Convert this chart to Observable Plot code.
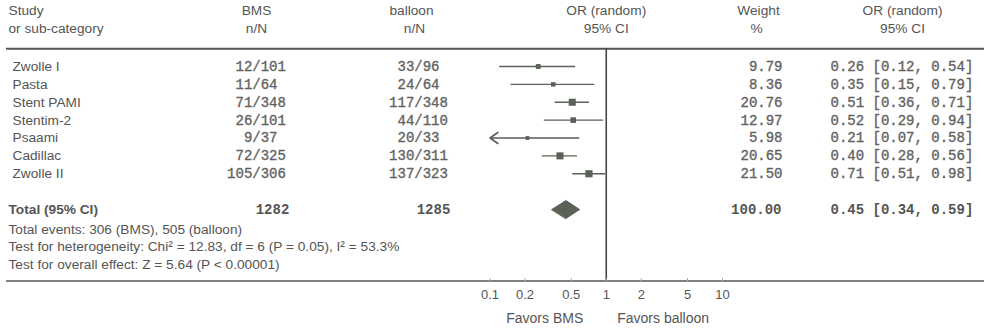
<!DOCTYPE html>
<html><head><meta charset="utf-8">
<script src="https://cdn.jsdelivr.net/npm/d3@7"></script>
<script src="https://cdn.jsdelivr.net/npm/@observablehq/plot@0.6"></script>
<style>body{margin:0;background:#fff;}</style>
</head><body><div id="chart"></div>
<script>
// ---- data ----
const studies = ["Zwolle I", "Pasta", "Stent PAMI", "Stentim-2", "Psaami", "Cadillac", "Zwolle II"];
const bmsEvents = [12, 11, 71, 26, 9, 72, 105];
const bmsTotal = [101, 64, 348, 101, 37, 325, 306];
const balloonEvents = [33, 24, 117, 44, 20, 130, 137];
const balloonTotal = [96, 64, 348, 110, 33, 311, 323];
const weights = [9.79, 8.36, 20.76, 12.97, 5.98, 20.65, 21.50];
const orEst = [0.26, 0.35, 0.51, 0.52, 0.21, 0.40, 0.71];
const orLow = [0.12, 0.15, 0.36, 0.29, 0.07, 0.28, 0.51];
const orHigh = [0.54, 0.79, 0.71, 0.94, 0.58, 0.56, 0.98];
const totalLabel = "Total (95% CI)";
const totalBms = 1282;
const totalBalloon = 1285;
const totalWeight = 100.00;
const totalOr = {est: 0.45, lo: 0.34, hi: 0.59};
const headerTop = ["Study", "BMS", "balloon", "OR (random)", "Weight", "OR (random)"];
const headerBottom = ["or sub-category", "n/N", "n/N", "95% CI", "%", "95% CI"];
const footnotes = [
  "Total events: 306 (BMS), 505 (balloon)",
  "Test for heterogeneity: Chi² = 12.83, df = 6 (P = 0.05), I² = 53.3%",
  "Test for overall effect: Z = 5.64 (P < 0.00001)"
];
const axisTicks = [0.1, 0.2, 0.5, 1, 2, 5, 10];
const favors = ["Favors BMS", "Favors balloon"];

// ---- formatting helpers ----
const NB = "\u00A0";
const padL = (s, n) => NB.repeat(Math.max(0, n - s.length)) + s;
const padR = (s, n) => s + NB.repeat(Math.max(0, n - s.length));
const nN = (n, N) => padL(String(n), 3) + "/" + padR(String(N), 3);
const ci = (e, l, h) => `${e.toFixed(2)} [${l.toFixed(2)}, ${h.toFixed(2)}]`;

const rows = studies.map((s, i) => ({
  i, study: s,
  bms: nN(bmsEvents[i], bmsTotal[i]),
  balloon: nN(balloonEvents[i], balloonTotal[i]),
  weight: weights[i],
  est: orEst[i], lo: orLow[i], hi: orHigh[i],
  orText: ci(orEst[i], orLow[i], orHigh[i])
}));
const totalRow = 8;
const xMin = 0.1;
const diamond = [
  {x: totalOr.lo, y: totalRow},
  {x: totalOr.est, y: totalRow - 0.5},
  {x: totalOr.hi, y: totalRow},
  {x: totalOr.est, y: totalRow + 0.5}
];

// ---- style ----
const sans = "'Liberation Sans', Arial, sans-serif";
const mono = "'Liberation Mono', 'Courier New', monospace";
const textColor = "#555";
const monoColor = "#626262";
const markColor = "#5a6258";
const lineColor = "#555";

// column layout (frame left is at marginLeft = 6)
const col = {study: 6, studyHead: 2, bms: 250, bmsTotal: 266, balloon: 412, balloonHead: 405, balloonTotal: 427, weightHead: 752, weight: 776, orHead: 896, or: 824};

const monoText = {fontFamily: mono, fontSize: 14, fill: monoColor, stroke: monoColor, strokeWidth: 0.35};
const monoBold = {fontFamily: mono, fontSize: 14, fill: "#555", fontWeight: "bold"};

const chart = Plot.plot({
  width: 984, height: 330,
  marginLeft: 6, marginRight: 0, marginTop: 0, marginBottom: 50,
  style: {fontFamily: sans, fontSize: "13.7px", color: textColor, background: "#fff", overflow: "visible"},
  x: {type: "log", domain: [0.1, 10], range: [489.5, 722], axis: null},
  y: {domain: [0, 8], range: [66, 209], axis: null},
  r: {type: "sqrt", domain: [0, 22], range: [0, 4.1]},
  marks: [
    // header
    Plot.text([headerTop[0]], {frameAnchor: "left", dx: col.studyHead, y: -3.13, textAnchor: "start"}),
    Plot.text([headerBottom[0]], {frameAnchor: "left", dx: col.studyHead, y: -2.13, textAnchor: "start"}),
    Plot.text([headerTop[1]], {frameAnchor: "left", dx: col.bms, y: -3.13, textAnchor: "middle"}),
    Plot.text([headerBottom[1]], {frameAnchor: "left", dx: col.bms, y: -2.13, textAnchor: "middle"}),
    Plot.text([headerTop[2]], {frameAnchor: "left", dx: col.balloonHead, y: -3.13, textAnchor: "middle"}),
    Plot.text([headerBottom[2]], {frameAnchor: "left", dx: col.balloonHead + 3, y: -2.13, textAnchor: "middle"}),
    Plot.text([headerTop[3]], {x: 1, y: -3.13, textAnchor: "middle"}),
    Plot.text([headerBottom[3]], {x: 1, y: -2.13, textAnchor: "middle"}),
    Plot.text([headerTop[4]], {frameAnchor: "left", dx: col.weightHead, y: -3.13, textAnchor: "middle"}),
    Plot.text([headerBottom[4]], {frameAnchor: "left", dx: col.weightHead - 2, y: -2.13, textAnchor: "middle"}),
    Plot.text([headerTop[5]], {frameAnchor: "left", dx: col.orHead, y: -3.13, textAnchor: "middle"}),
    Plot.text([headerBottom[5]], {frameAnchor: "left", dx: col.orHead, y: -2.13, textAnchor: "middle"}),
    Plot.ruleY([-1], {stroke: lineColor, strokeWidth: 2}),

    // study rows
    Plot.text(rows, {frameAnchor: "left", dx: col.study, y: "i", text: "study", textAnchor: "start"}),
    Plot.text(rows, {frameAnchor: "left", dx: col.bms, y: "i", text: "bms", textAnchor: "middle", ...monoText}),
    Plot.text(rows, {frameAnchor: "left", dx: col.balloon, y: "i", text: "balloon", textAnchor: "middle", ...monoText}),
    Plot.text(rows, {frameAnchor: "left", dx: col.weight, y: "i", text: d => d.weight.toFixed(2), textAnchor: "end", ...monoText}),
    Plot.text(rows, {frameAnchor: "left", dx: col.or, y: "i", text: "orText", textAnchor: "start", ...monoText}),

    // forest marks
    Plot.ruleX([1], {y1: -1, y2: 12, stroke: "#444", strokeWidth: 1.6}),
    Plot.link(rows.filter(d => d.lo >= xMin), {x1: "lo", x2: "hi", y1: "i", y2: "i", stroke: markColor, strokeWidth: 1.4}),
    Plot.arrow(rows.filter(d => d.lo < xMin), {x1: "hi", x2: () => xMin, y1: "i", y2: "i", stroke: markColor, strokeWidth: 1.6, headLength: 9, headAngle: 70}),
    Plot.dot(rows, {x: "est", y: "i", r: "weight", symbol: "square", fill: markColor, stroke: "none"}),

    // total row
    Plot.text([totalLabel], {frameAnchor: "left", dx: col.studyHead, y: totalRow, textAnchor: "start", fontWeight: "bold"}),
    Plot.text([totalBms], {frameAnchor: "left", dx: col.bmsTotal, y: totalRow, text: d => String(d), textAnchor: "middle", ...monoBold}),
    Plot.text([totalBalloon], {frameAnchor: "left", dx: col.balloonTotal, y: totalRow, text: d => String(d), textAnchor: "middle", ...monoBold}),
    Plot.text([totalWeight], {frameAnchor: "left", dx: col.weight - 1, y: totalRow, text: d => d.toFixed(2), textAnchor: "end", ...monoBold}),
    Plot.text([totalOr], {frameAnchor: "left", dx: col.or, y: totalRow, text: d => ci(d.est, d.lo, d.hi), textAnchor: "start", ...monoBold}),
    Plot.line(diamond, {x: "x", y: "y", curve: "linear-closed", fill: markColor, stroke: markColor, strokeWidth: 1}),

    // footnotes
    Plot.text(footnotes, {frameAnchor: "left", dx: col.studyHead, y: (d, i) => 9.1 + i * 0.99, textAnchor: "start"}),

    // axis
    Plot.ruleY([12], {stroke: lineColor, strokeWidth: 1.6}),
    Plot.ruleX(axisTicks, {x: d => d, y1: 11.86, y2: 12.1, stroke: "#aaa", strokeWidth: 1}),
    Plot.axisX({ticks: axisTicks, anchor: "bottom", tickSize: 0, tickPadding: 9, tickFormat: d => `${d}`, fontSize: 13, fill: textColor}),
    Plot.text([favors[0]], {x: 1, y: 14.08, dx: -23, textAnchor: "end", fontSize: 14}),
    Plot.text([favors[1]], {x: 1, y: 14.08, dx: 11, textAnchor: "start", fontSize: 14})
  ]
});
document.getElementById("chart").appendChild(chart);
</script>
</body></html>
